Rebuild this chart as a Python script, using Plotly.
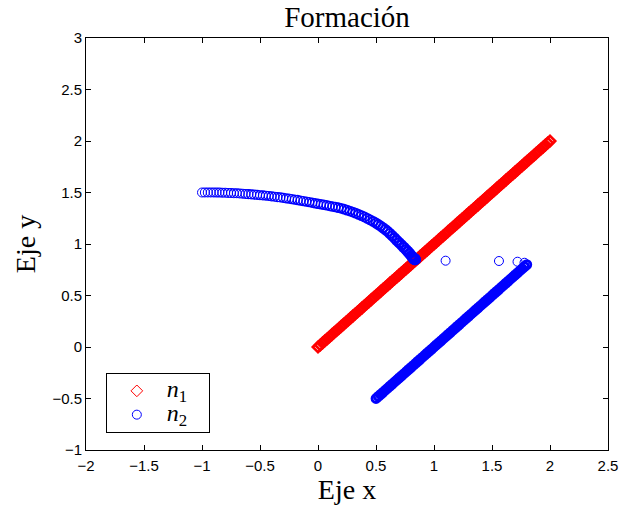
import plotly.graph_objects as go

# ---------------- data ----------------
red_x = [0.00,0.02,0.04,0.06,0.08,0.10,0.12,0.14,0.16,0.18,0.20,0.22,0.24,0.26,0.28,0.30,0.32,0.34,0.36,0.38,
         0.40,0.42,0.44,0.46,0.48,0.50,0.52,0.54,0.56,0.58,0.60,0.62,0.64,0.66,0.68,0.70,0.72,0.74,0.76,0.78,
         0.80,0.82,0.84,0.86,0.88,0.90,0.92,0.94,0.96,0.98,1.00,1.02,1.04,1.06,1.08,1.10,1.12,1.14,1.16,1.18,
         1.20,1.22,1.24,1.26,1.28,1.30,1.32,1.34,1.36,1.38,1.40,1.42,1.44,1.46,1.48,1.50,1.52,1.54,1.56,1.58,
         1.60,1.62,1.64,1.66,1.68,1.70,1.72,1.74,1.76,1.78,1.80,1.82,1.84,1.86,1.88,1.90,1.92,1.94,1.96,1.98,2.00]
red_y = [0.00,0.02,0.04,0.06,0.08,0.10,0.12,0.14,0.16,0.18,0.20,0.22,0.24,0.26,0.28,0.30,0.32,0.34,0.36,0.38,
         0.40,0.42,0.44,0.46,0.48,0.50,0.52,0.54,0.56,0.58,0.60,0.62,0.64,0.66,0.68,0.70,0.72,0.74,0.76,0.78,
         0.80,0.82,0.84,0.86,0.88,0.90,0.92,0.94,0.96,0.98,1.00,1.02,1.04,1.06,1.08,1.10,1.12,1.14,1.16,1.18,
         1.20,1.22,1.24,1.26,1.28,1.30,1.32,1.34,1.36,1.38,1.40,1.42,1.44,1.46,1.48,1.50,1.52,1.54,1.56,1.58,
         1.60,1.62,1.64,1.66,1.68,1.70,1.72,1.74,1.76,1.78,1.80,1.82,1.84,1.86,1.88,1.90,1.92,1.94,1.96,1.98,2.00]

# n2: curved approach
arc_x = [-1.000,-0.975,-0.950,-0.925,-0.900,-0.875,-0.850,-0.825,-0.800,-0.775,-0.750,-0.725,-0.700,-0.675,
         -0.650,-0.625,-0.600,-0.575,-0.550,-0.525,-0.500,-0.475,-0.450,-0.425,-0.400,-0.375,-0.350,-0.325,
         -0.300,-0.275,-0.250,-0.225,-0.200,-0.175,-0.150,-0.125,-0.100,-0.075,-0.050,-0.025,0.000,0.025,
         0.050,0.075,0.100,0.125,0.150,0.175,0.200,0.225,0.250,0.275,0.300,0.325,0.350,0.375,0.400,0.425,
         0.450,0.475,0.500,0.520,0.540,0.560,0.580,0.600,0.620,0.640,0.660,0.680,0.700,0.720,0.740,0.760,
         0.775,0.790,0.805,0.815,0.825,0.830,0.835,0.836,0.836]
arc_y = [1.500,1.500,1.500,1.500,1.500,1.499,1.499,1.498,1.497,1.496,1.495,1.493,1.492,1.490,
         1.488,1.486,1.484,1.482,1.479,1.477,1.474,1.472,1.469,1.466,1.462,1.459,1.455,1.452,
         1.448,1.444,1.440,1.436,1.431,1.427,1.422,1.417,1.412,1.407,1.401,1.396,1.390,1.386,
         1.381,1.376,1.370,1.365,1.359,1.353,1.346,1.338,1.329,1.320,1.310,1.300,1.288,1.276,1.263,1.249,
         1.234,1.219,1.203,1.189,1.174,1.158,1.141,1.122,1.102,1.080,1.058,1.035,1.012,0.990,0.967,0.944,
         0.926,0.906,0.886,0.872,0.860,0.855,0.850,0.850,0.850]

# n2: isolated jumps
jump_x = [1.10, 1.56, 1.72, 1.78]
jump_y = [0.838, 0.835, 0.828, 0.818]

# n2: straight retreat
line_x = [0.50,0.52,0.54,0.56,0.58,0.60,0.62,0.64,0.66,0.68,0.70,0.72,0.74,0.76,0.78,0.80,0.82,0.84,0.86,0.88,
          0.90,0.92,0.94,0.96,0.98,1.00,1.02,1.04,1.06,1.08,1.10,1.12,1.14,1.16,1.18,1.20,1.22,1.24,1.26,1.28,
          1.30,1.32,1.34,1.36,1.38,1.40,1.42,1.44,1.46,1.48,1.50,1.52,1.54,1.56,1.58,1.60,1.62,1.64,1.66,1.68,
          1.70,1.72,1.74,1.76,1.78,1.80]
line_y = [-0.50,-0.48,-0.46,-0.44,-0.42,-0.40,-0.38,-0.36,-0.34,-0.32,-0.30,-0.28,-0.26,-0.24,-0.22,-0.20,-0.18,
          -0.16,-0.14,-0.12,-0.10,-0.08,-0.06,-0.04,-0.02,0.00,0.02,0.04,0.06,0.08,0.10,0.12,0.14,0.16,0.18,0.20,
          0.22,0.24,0.26,0.28,0.30,0.32,0.34,0.36,0.38,0.40,0.42,0.44,0.46,0.48,0.50,0.52,0.54,0.56,0.58,0.60,
          0.62,0.64,0.66,0.68,0.70,0.72,0.74,0.76,0.78,0.80]

x_ticks = [-2, -1.5, -1, -0.5, 0, 0.5, 1, 1.5, 2, 2.5]
y_ticks = [-1, -0.5, 0, 0.5, 1, 1.5, 2, 2.5, 3]

title_text = "Formación"
xlabel = "Eje x"
ylabel = "Eje y"
legend_labels = ["<i>n</i><sub>1</sub>", "<i>n</i><sub>2</sub>"]

RED = "#ff0000"
BLUE = "#0000ff"

# ---------------- figure ----------------
fig = go.Figure()

# n1 (dense track -> thicker outline so it reads as a solid band)
fig.add_trace(go.Scatter(
    x=red_x, y=red_y, mode="markers", showlegend=False, legendgroup="n1",
    marker=dict(symbol="diamond-open", size=8, color=RED, line=dict(width=2.6, color=RED)),
))

# n2 arc: rings get denser toward the end
n_arc = len(arc_x)
arc_lw = [1.0 + 1.8 * (i / (n_arc - 1)) ** 2 for i in range(n_arc)]
fig.add_trace(go.Scatter(
    x=arc_x, y=arc_y, mode="markers", showlegend=False, legendgroup="n2",
    marker=dict(symbol="circle-open", size=9, color=BLUE, line=dict(width=arc_lw, color=BLUE)),
))
fig.add_trace(go.Scatter(
    x=jump_x, y=jump_y, mode="markers", showlegend=False, legendgroup="n2",
    marker=dict(symbol="circle-open", size=9, color=BLUE, line=dict(width=1.0, color=BLUE)),
))
fig.add_trace(go.Scatter(
    x=line_x, y=line_y, mode="markers", showlegend=False, legendgroup="n2",
    marker=dict(symbol="circle-open", size=8, color=BLUE, line=dict(width=2.8, color=BLUE)),
))

# legend entries
pad = "\u00a0" * 4
def legend_name(lbl):
    return "<span style='font-size:24px'>" + lbl + "</span>" + pad

fig.add_trace(go.Scatter(
    x=[None], y=[None], mode="markers", name=legend_name(legend_labels[0]), legendgroup="n1",
    marker=dict(symbol="diamond-open", size=9, color=RED, line=dict(width=1, color=RED)),
))
fig.add_trace(go.Scatter(
    x=[None], y=[None], mode="markers", name=legend_name(legend_labels[1]), legendgroup="n2",
    marker=dict(symbol="circle-open", size=9, color=BLUE, line=dict(width=1, color=BLUE)),
))

serif = "Liberation Serif, Times New Roman, serif"
sans = "Liberation Sans, Arial, sans-serif"

axis_common = dict(
    showgrid=False, zeroline=False, showline=True, linecolor="black", linewidth=1,
    mirror="allticks", ticks="inside", ticklen=5, tickcolor="black", tickwidth=1,
    tickfont=dict(family=sans, size=15, color="black"), automargin=False,
)

fig.update_layout(
    width=623, height=508,
    margin=dict(l=86, r=15, t=38, b=58, autoexpand=False),
    paper_bgcolor="white", plot_bgcolor="white",
    title=dict(text=title_text, x=0.5, xref="paper", xanchor="center",
               y=1 - 17 / 508, yref="container", yanchor="middle",
               font=dict(family=serif, size=29, color="black")),
    xaxis=dict(range=[-2, 2.5], tickmode="array", tickvals=x_ticks, ticklabelstandoff=2,
               title=dict(text=xlabel, font=dict(family=serif, size=28, color="black"), standoff=0),
               **axis_common),
    yaxis=dict(range=[-1, 3], tickmode="array", tickvals=y_ticks,
               title=dict(text=ylabel, font=dict(family=serif, size=28, color="black"), standoff=8),
               **axis_common),
    showlegend=True,
    legend=dict(x=0.038, y=0.187, xanchor="left", yanchor="top",
                bgcolor="white", bordercolor="black", borderwidth=1,
                font=dict(family=serif, size=16, color="black"),
                itemwidth=50, tracegroupgap=0, traceorder="normal"),
)

fig.write_html("out.html")
